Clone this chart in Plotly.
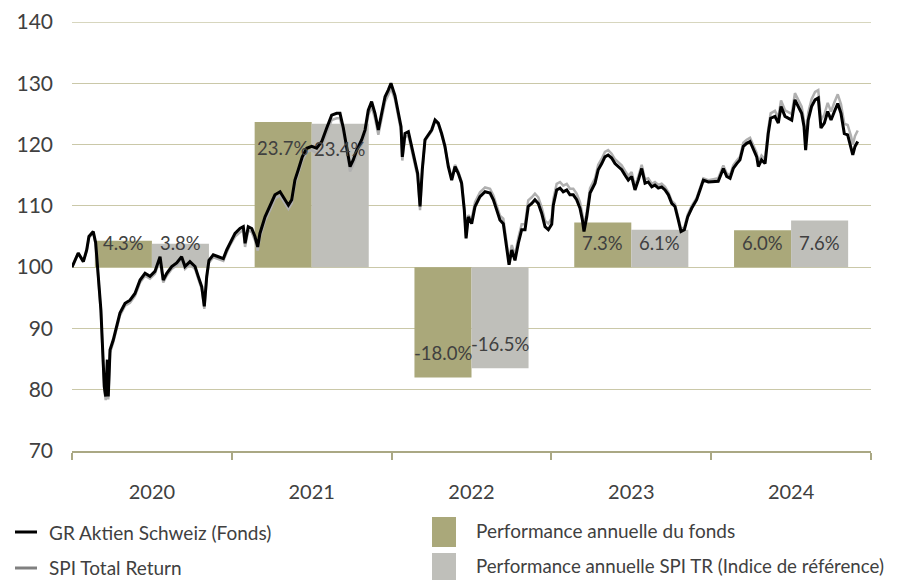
import plotly.graph_objects as go

# ---------------- data ----------------
years = ["2020", "2021", "2022", "2023", "2024"]
perf_fund = [4.3, 23.7, -18.0, 7.3, 6.0]
perf_spi = [3.8, 23.4, -16.5, 6.1, 7.6]

# time in years since 1 Jan 2020
t = [0.000, 0.039, 0.071, 0.092, 0.106, 0.133, 0.148, 0.165, 0.181, 0.190,
     0.202, 0.211, 0.221, 0.227, 0.238, 0.258, 0.280, 0.300, 0.332, 0.363,
     0.394, 0.426, 0.457, 0.488, 0.519, 0.551, 0.571, 0.593, 0.624, 0.655,
     0.686, 0.707, 0.738, 0.770, 0.790, 0.812, 0.828, 0.843, 0.857, 0.884,
     0.916, 0.947, 0.968, 0.989, 1.020, 1.051, 1.072, 1.083, 1.103, 1.125,
     1.145, 1.162, 1.176, 1.208, 1.239, 1.270, 1.302, 1.333, 1.354, 1.375,
     1.395, 1.416, 1.441, 1.469, 1.500, 1.531, 1.563, 1.594, 1.625, 1.656,
     1.677, 1.698, 1.719, 1.740, 1.760, 1.782, 1.813, 1.834, 1.854, 1.875,
     1.896, 1.917, 1.938, 1.959, 1.979, 1.996, 2.021, 2.042, 2.059, 2.067,
     2.084, 2.105, 2.126, 2.146, 2.163, 2.178, 2.192, 2.209, 2.230, 2.251,
     2.272, 2.292, 2.313, 2.334, 2.355, 2.376, 2.397, 2.417, 2.438, 2.455,
     2.466, 2.480, 2.501, 2.522, 2.553, 2.585, 2.616, 2.637, 2.658, 2.678,
     2.699, 2.720, 2.735, 2.752, 2.772, 2.793, 2.814, 2.835, 2.855, 2.877,
     2.897, 2.918, 2.939, 2.960, 2.981, 3.002, 3.012, 3.033, 3.054, 3.074,
     3.096, 3.116, 3.137, 3.158, 3.179, 3.194, 3.204, 3.221, 3.242, 3.273,
     3.293, 3.315, 3.335, 3.355, 3.377, 3.398, 3.418, 3.440, 3.461, 3.481,
     3.502, 3.523, 3.544, 3.565, 3.586, 3.606, 3.628, 3.648, 3.669, 3.690,
     3.711, 3.732, 3.753, 3.773, 3.794, 3.811, 3.832, 3.853, 3.878, 3.909,
     3.930, 3.951, 3.982, 4.013, 4.044, 4.076, 4.097, 4.118, 4.138, 4.160,
     4.180, 4.201, 4.222, 4.243, 4.264, 4.285, 4.295, 4.315, 4.337, 4.357,
     4.372, 4.399, 4.420, 4.437, 4.462, 4.482, 4.504, 4.524, 4.545, 4.566,
     4.581, 4.591, 4.607, 4.628, 4.650, 4.670, 4.687, 4.708, 4.729, 4.750,
     4.771, 4.792, 4.812, 4.833, 4.854, 4.875, 4.886, 4.900, 4.917]

fund = [100.0, 102.3, 100.9, 102.8, 105.0, 105.8, 104.0, 97.9, 93.0, 87.6,
        80.5, 78.9, 84.9, 78.9, 86.5, 88.1, 90.3, 92.5, 94.1, 94.6,
        95.7, 97.9, 99.0, 98.5, 99.3, 101.7, 97.9, 99.0, 100.1, 100.7,
        101.7, 100.1, 100.9, 100.1, 98.5, 96.8, 93.6, 98.5, 101.1, 102.0,
        101.7, 101.4, 102.8, 104.0, 105.5, 106.3, 106.6, 103.9, 106.6, 106.3,
        105.0, 103.3, 105.5, 108.2, 109.9, 111.8, 112.3, 111.0, 110.1, 111.0,
        114.2, 115.9, 118.0, 119.4, 119.7, 119.4, 120.5, 122.7, 124.8, 125.1,
        125.1, 122.7, 119.7, 116.4, 117.5, 119.1, 120.8, 122.4, 125.6, 127.0,
        125.1, 122.4, 125.1, 127.8, 128.9, 130.0, 128.0, 125.3, 122.9, 118.0,
        121.8, 122.1, 119.7, 117.5, 115.3, 109.9, 115.9, 120.8, 121.6, 122.4,
        124.0, 123.5, 121.8, 119.7, 116.4, 114.2, 116.4, 115.3, 113.7, 109.3,
        104.7, 108.2, 107.1, 109.9, 111.5, 112.3, 112.1, 111.0, 109.3, 107.7,
        107.1, 103.3, 100.4, 102.8, 101.1, 103.9, 106.1, 106.1, 109.9, 110.4,
        111.0, 110.4, 108.8, 106.6, 106.1, 107.0, 110.1, 112.6, 112.9, 112.3,
        112.6, 111.8, 111.8, 111.0, 109.6, 107.7, 105.8, 108.2, 112.1, 113.7,
        115.9, 116.9, 118.0, 118.3, 117.8, 116.9, 116.4, 115.9, 115.0, 114.2,
        114.8, 112.6, 114.2, 116.1, 113.7, 113.9, 113.1, 113.4, 112.9, 113.1,
        112.6, 111.8, 110.4, 109.9, 107.7, 105.8, 106.1, 108.2, 109.6, 111.0,
        112.6, 114.2, 113.9, 113.9, 114.0, 116.1, 114.8, 114.5, 116.1, 116.9,
        117.5, 119.7, 120.2, 120.5, 119.1, 118.0, 116.4, 117.5, 116.9, 121.8,
        124.3, 124.6, 123.5, 126.2, 124.6, 124.3, 124.0, 127.3, 126.2, 125.1,
        122.9, 119.1, 124.0, 126.2, 127.3, 127.6, 122.7, 123.5, 125.4, 124.0,
        125.4, 126.7, 125.1, 121.8, 121.6, 119.7, 118.3, 119.7, 120.5]

spi = [100.0, 102.3, 100.9, 102.7, 104.8, 105.6, 103.8, 97.4, 92.5, 87.1,
       80.0, 78.3, 84.4, 78.4, 86.0, 87.7, 89.9, 92.1, 93.7, 94.2,
       95.3, 97.5, 98.6, 98.1, 98.9, 101.3, 97.5, 98.6, 99.7, 100.3,
       101.3, 99.7, 100.5, 99.7, 98.1, 96.4, 93.2, 98.1, 100.7, 101.6,
       101.3, 101.0, 102.4, 103.6, 105.0, 105.7, 106.0, 103.3, 106.0, 105.7,
       104.4, 102.7, 104.9, 107.6, 109.3, 111.2, 111.7, 110.4, 109.5, 110.4,
       113.6, 115.3, 117.4, 118.8, 119.1, 118.6, 119.7, 121.9, 124.0, 124.3,
       124.3, 121.9, 118.9, 115.6, 116.7, 118.3, 120.0, 121.6, 124.8, 126.2,
       124.3, 121.6, 124.3, 127.0, 128.1, 129.2, 127.4, 124.7, 122.3, 117.4,
       121.2, 121.5, 119.1, 116.9, 114.7, 109.3, 115.7, 120.6, 121.4, 122.2,
       123.8, 123.3, 121.6, 119.5, 116.7, 114.5, 116.7, 115.6, 114.0, 109.6,
       105.0, 108.5, 107.8, 110.6, 112.2, 113.0, 112.8, 111.7, 110.0, 108.4,
       107.9, 104.1, 101.2, 103.6, 101.9, 104.8, 107.0, 107.0, 110.9, 111.4,
       112.0, 111.4, 109.8, 107.6, 107.1, 108.0, 111.1, 113.6, 113.9, 113.3,
       113.6, 112.8, 112.8, 112.0, 110.6, 108.6, 106.6, 109.0, 112.9, 114.5,
       116.7, 117.7, 118.8, 119.1, 118.5, 117.6, 117.1, 116.6, 115.7, 114.9,
       115.5, 113.2, 114.8, 116.7, 114.3, 114.5, 113.6, 113.9, 113.4, 113.6,
       113.1, 112.2, 110.8, 110.3, 108.1, 106.2, 106.5, 108.6, 110.0, 111.3,
       112.9, 114.5, 114.2, 114.3, 114.5, 116.6, 115.3, 115.0, 116.6, 117.4,
       118.0, 120.3, 120.8, 121.1, 119.7, 118.6, 117.0, 118.2, 117.6, 122.6,
       125.1, 125.5, 124.4, 127.2, 125.6, 125.3, 125.0, 128.4, 127.3, 126.2,
       124.0, 120.3, 125.2, 127.4, 128.6, 128.9, 124.0, 124.9, 126.8, 125.4,
       126.9, 128.2, 126.6, 123.4, 123.2, 121.4, 120.0, 121.4, 122.3]

yticks = [70, 80, 90, 100, 110, 120, 130, 140]

names = ["GR Aktien Schweiz (Fonds)", "SPI Total Return",
         "Performance annuelle du fonds",
         "Performance annuelle SPI TR (Indice de référence)"]

# ---------------- styles ----------------
FONT = "Lato"
TXT = "#404040"
C_FUND_BAR = "#aaa87a"
C_SPI_BAR = "#bfbfba"
C_GRID = "#cac8a8"
C_AXIS = "#aaa884"
BASE = 100
BW = 0.357

# page body has an 8px margin: figure is placed at (8, 8)
OFF = 8
W, H = 904 - OFF, 580 - OFF
L, R, T, B = 72 - OFF, 904 - 871, 22 - OFF, 580 - 451
PW, PH = W - L - R, H - T - B

centers = [i + 0.5 for i in range(len(years))]

fig = go.Figure()
fig.add_trace(go.Bar(x=centers, y=perf_fund, base=BASE, width=BW, offset=-BW,
                     marker=dict(color=C_FUND_BAR, line=dict(width=0)),
                     name=names[2], showlegend=False))
fig.add_trace(go.Bar(x=centers, y=perf_spi, base=BASE, width=BW, offset=0,
                     marker=dict(color=C_SPI_BAR, line=dict(width=0)),
                     name=names[3], showlegend=False))
fig.add_trace(go.Scatter(x=t, y=spi, mode="lines", name=names[1],
                         line=dict(color="#b0b0b0", width=2.5), showlegend=False))
fig.add_trace(go.Scatter(x=t, y=fund, mode="lines", name=names[0],
                         line=dict(color="#000000", width=3), showlegend=False))

# bar value labels (inside end)
ann = []
for vals, sgn in ((perf_fund, -1), (perf_spi, 1)):
    for xc, v in zip(centers, vals):
        xm = xc + sgn * BW / 2
        if v >= 0:
            yl = max(BASE + v - 4.2, BASE + 4.0)
        else:
            yl = min(BASE + v + 4.0, BASE - 4.0)
        ann.append(dict(x=xm, y=yl, xref="x", yref="y", text=f"{v:.1f}%",
                        showarrow=False, font=dict(family=FONT, size=18.5, color=TXT)))

# manual legend (positions given in page pixels)
def py(p):
    return (451 - p) / PH
def px(p):
    return (p - 72) / PW

shapes = []
# top gridline at the upper end of the range
shapes.append(dict(type="line", xref="paper", yref="y", x0=0, x1=1,
                   y0=yticks[-1], y1=yticks[-1], line=dict(color=C_GRID, width=1.3),
                   layer="below"))
shapes.append(dict(type="line", xref="paper", yref="paper", x0=px(15), x1=px(37),
                   y0=py(532), y1=py(532), line=dict(color="#000000", width=3)))
shapes.append(dict(type="line", xref="paper", yref="paper", x0=px(15), x1=px(37),
                   y0=py(568), y1=py(568), line=dict(color="#808080", width=3)))
shapes.append(dict(type="rect", xref="paper", yref="paper", x0=px(432), x1=px(456),
                   y0=py(547), y1=py(517), fillcolor=C_FUND_BAR, line=dict(width=0)))
shapes.append(dict(type="rect", xref="paper", yref="paper", x0=px(432), x1=px(456),
                   y0=py(580), y1=py(553), fillcolor=C_SPI_BAR, line=dict(width=0)))
for txt, x0, yc, fs in ((names[0], 47, 532, 19), (names[1], 47, 567, 19),
                        (names[2], 474, 530, 19), (names[3], 474, 566, 18.7)):
    ann.append(dict(x=px(x0), y=py(yc), xref="paper", yref="paper", text=txt,
                    showarrow=False, xanchor="left", yanchor="middle",
                    font=dict(family=FONT, size=fs, color=TXT)))

fig.update_layout(
    width=W, height=H,
    margin=dict(l=L, r=R, t=T, b=B, autoexpand=False),
    paper_bgcolor="white", plot_bgcolor="white",
    font=dict(family=FONT, color=TXT),
    barmode="overlay",
    showlegend=False,
    annotations=ann, shapes=shapes,
    xaxis=dict(range=[0, 5], tickmode="array", tickvals=centers, ticktext=years,
               ticks="", showgrid=False, zeroline=False,
               showline=True, linecolor=C_AXIS, linewidth=1.5,
               tickfont=dict(family=FONT, size=20, color=TXT),
               ticklabelstandoff=22,
               minor=dict(tickmode="array", tickvals=[0, 1, 2, 3, 4, 5],
                          ticks="outside", ticklen=7, tickcolor=C_AXIS,
                          tickwidth=1.5, showgrid=False)),
    yaxis=dict(range=[70, 140], tickmode="array", tickvals=yticks,
               showgrid=True, gridcolor=C_GRID, gridwidth=1.3, zeroline=False,
               showline=False, ticks="",
               tickfont=dict(family=FONT, size=21, color=TXT),
               ticklabelstandoff=18),
)

fig.write_html("out.html")
